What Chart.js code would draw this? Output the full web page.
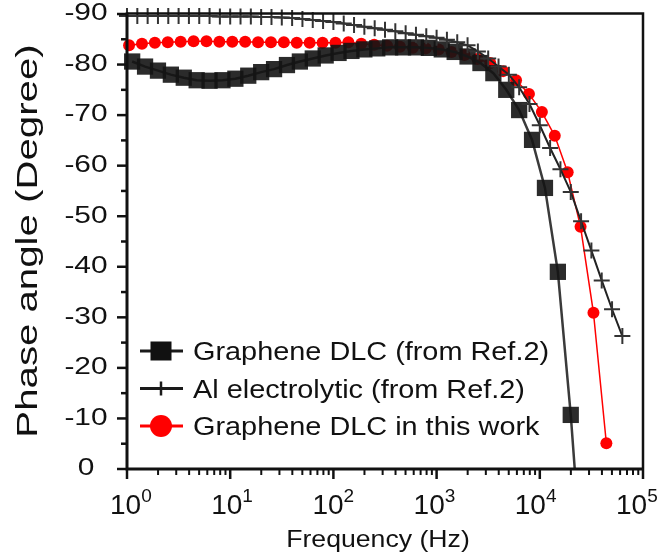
<!DOCTYPE html>
<html>
<head>
<meta charset="utf-8">
<script src="https://cdn.jsdelivr.net/npm/chart.js@4.4.1/dist/chart.umd.min.js"></script>
<style>
  html, body { margin: 0; padding: 0; background: #fff; }
  #wrap { width: 657px; height: 556px; }
</style>
</head>
<body>
<div id="wrap"><canvas id="phaseChart"></canvas></div>
<script>
// log10(frequency / Hz) of every marker
var blackLogF = [0.05, 0.175, 0.3, 0.425, 0.55, 0.675, 0.8, 0.925, 1.05, 1.175, 1.3, 1.425,
    1.55, 1.675, 1.8, 1.925, 2.05, 2.175, 2.3, 2.425, 2.55, 2.675, 2.8, 2.925,
    3.05, 3.175, 3.3, 3.425, 3.55, 3.675, 3.8, 3.925, 4.05, 4.175, 4.3, 4.425];
var blackPhase = [-80.6, -79.6, -78.8, -78.0, -77.4, -76.9, -76.8, -76.9, -77.2, -77.8, -78.5, -79.1,
    -79.9, -80.6, -81.2, -81.8, -82.3, -82.7, -83.0, -83.2, -83.4, -83.4, -83.4, -83.3,
    -83.0, -82.5, -81.6, -80.3, -78.3, -75.0, -71.0, -65.1, -55.6, -39.0, -10.7, 24];

var alLogF = [0, 0.1, 0.2, 0.3, 0.4, 0.5, 0.6, 0.7, 0.8, 0.9, 1.0, 1.1, 1.2, 1.3, 1.4, 1.5,
    1.6, 1.7, 1.8, 1.9, 2.0, 2.1, 2.2, 2.3, 2.4, 2.5, 2.6, 2.7, 2.8, 2.9, 3.0, 3.1,
    3.2, 3.3, 3.4, 3.5, 3.6, 3.7, 3.8, 3.9, 4.0, 4.1, 4.2, 4.3, 4.4, 4.5, 4.6, 4.7, 4.8];
var alPhase = [-89.6, -89.6, -89.6, -89.6, -89.6, -89.6, -89.6, -89.6, -89.6, -89.5, -89.5, -89.5,
    -89.5, -89.4, -89.4, -89.3, -89.2, -89.0, -88.8, -88.6, -88.4, -88.1, -87.8, -87.5,
    -87.2, -86.9, -86.6, -86.2, -85.9, -85.6, -85.3, -84.9, -84.4, -83.8, -82.6, -81.2,
    -79.6, -78.0, -75.5, -72.2, -68.0, -63.5, -59.3, -54.8, -49.0, -43.2, -37.3, -31.6, -26.3];

var redLogF = [0.02, 0.145, 0.27, 0.395, 0.52, 0.645, 0.77, 0.895, 1.02, 1.145, 1.27, 1.395,
    1.52, 1.645, 1.77, 1.895, 2.02, 2.145, 2.27, 2.395, 2.52, 2.645, 2.77, 2.895,
    3.02, 3.145, 3.27, 3.395, 3.52, 3.645, 3.77, 3.895, 4.02, 4.145, 4.27, 4.395, 4.52, 4.645];
var redPhase = [-83.8, -84.1, -84.3, -84.4, -84.5, -84.6, -84.6, -84.5, -84.5, -84.5, -84.4, -84.4,
    -84.4, -84.3, -84.3, -84.3, -84.3, -84.4, -84.1, -83.9, -83.7, -83.5, -83.3, -83.2,
    -83.0, -82.5, -81.9, -81.1, -80.3, -78.7, -76.9, -74.2, -70.6, -65.9, -58.7, -47.9, -30.9, -5.1];

var yTicks = [-90, -80, -70, -60, -50, -40, -30, -20, -10, 0];
var xDecades = [0, 1, 2, 3, 4, 5];
var legendLabels = ['Graphene DLC (from Ref.2)', 'Al electrolytic (from Ref.2)', 'Graphene DLC in this work'];

var FONT = '"Liberation Sans", Arial, sans-serif';

function toPoints(logF, phase) {
    return logF.map(function(e, i) { return { x: Math.pow(10, e), y: phase[i] }; });
}

// text in the picture is wider than Arial, so stretch it sideways
function wideText(ctx, text, x, y, size, sx, align, baseline) {
    ctx.save();
    ctx.translate(x, y);
    ctx.scale(sx, 1);
    ctx.font = size + 'px ' + FONT;
    ctx.textAlign = align;
    ctx.textBaseline = baseline;
    ctx.fillText(text, 0, 0);
    ctx.restore();
}

var axesPlugin = {
    id: 'axesPlugin',
    afterDatasetsDraw: function(chart) {
        var ctx = chart.ctx, a = chart.chartArea;
        var xs = chart.scales.x, ys = chart.scales.y;
        ctx.save();
        ctx.fillStyle = '#111';
        ctx.strokeStyle = '#111';

        // box
        ctx.lineWidth = 2.5;
        ctx.beginPath();
        ctx.moveTo(a.left, a.top - 0.5);
        ctx.lineTo(a.right, a.top - 0.5);
        ctx.lineTo(a.right, a.bottom);
        ctx.stroke();
        ctx.lineWidth = 3;
        ctx.beginPath();
        ctx.moveTo(a.left, a.top - 1.5);
        ctx.lineTo(a.left, a.bottom);
        ctx.lineTo(a.right + 1, a.bottom);
        ctx.stroke();

        // y ticks every 5, labels every 10
        ctx.lineWidth = 2.5;
        for (var v = -90; v <= 0; v += 5) {
            var py = ys.getPixelForValue(v);
            var len = (v % 10 === 0) ? 10 : 6;
            ctx.beginPath();
            ctx.moveTo(a.left - len, py);
            ctx.lineTo(a.left, py);
            ctx.stroke();
        }
        yTicks.forEach(function(t) {
            wideText(ctx, String(t), 86, ys.getPixelForValue(t), 23, 1.3, 'center', 'middle');
        });

        // x ticks: decades + minor 2..9
        xDecades.forEach(function(d) {
            var px = xs.getPixelForValue(Math.pow(10, d));
            ctx.lineWidth = 2.5;
            ctx.beginPath();
            ctx.moveTo(px, a.bottom);
            ctx.lineTo(px, a.bottom + 10);
            ctx.stroke();
            if (d < 5) {
                ctx.lineWidth = 2;
                for (var m = 2; m <= 9; m++) {
                    var mx = xs.getPixelForValue(m * Math.pow(10, d));
                    ctx.beginPath();
                    ctx.moveTo(mx, a.bottom);
                    ctx.lineTo(mx, a.bottom + 6);
                    ctx.stroke();
                }
            }
            // label "10" with superscript exponent
            ctx.font = '28px ' + FONT;
            var w10 = ctx.measureText('10').width;
            var x0 = px - 17 - 2 * d;
            ctx.textAlign = 'left';
            ctx.textBaseline = 'alphabetic';
            ctx.fillText('10', x0, 514);
            ctx.font = '19px ' + FONT;
            ctx.fillText(String(d), x0 + w10, 502);
        });

        // axis titles
        wideText(ctx, 'Frequency (Hz)', (a.left + a.right) / 2 - 7, 547, 24, 1.11, 'center', 'alphabetic');
        ctx.save();
        ctx.translate(37, 241);
        ctx.rotate(-Math.PI / 2);
        ctx.scale(1.34, 1);
        ctx.font = '30px ' + FONT;
        ctx.textAlign = 'center';
        ctx.textBaseline = 'alphabetic';
        ctx.fillText('Phase angle (Degree)', 0, 0);
        ctx.restore();

        // legend
        var rows = [351, 388.5, 426];
        var lineX0 = 140, lineX1 = 183, mX = 161;
        rows.forEach(function(ry, i) {
            ctx.lineWidth = 3;
            ctx.strokeStyle = (i === 2) ? '#ff0000' : '#1a1a1a';
            ctx.beginPath();
            ctx.moveTo(lineX0, ry);
            ctx.lineTo(lineX1, ry);
            ctx.stroke();
            if (i === 0) {
                ctx.fillStyle = '#111';
                ctx.fillRect(mX - 10.5, ry - 9.5, 21, 19);
            } else if (i === 1) {
                ctx.lineWidth = 2.5;
                ctx.beginPath();
                ctx.moveTo(mX, ry - 7);
                ctx.lineTo(mX, ry + 7);
                ctx.stroke();
            } else {
                ctx.fillStyle = '#ff0000';
                ctx.beginPath();
                ctx.arc(mX, ry, 11, 0, Math.PI * 2);
                ctx.fill();
            }
            ctx.fillStyle = '#111';
            wideText(ctx, legendLabels[i], 193, ry + 9.3, 26, 1.11, 'left', 'alphabetic');
        });
        ctx.restore();
    }
};

window.onload = function() {
    var ctx = document.getElementById('phaseChart').getContext('2d');
    window.phaseChart = new Chart(ctx, {
        type: 'line',
        data: {
            datasets: [{
                label: legendLabels[1],
                data: toPoints(alLogF, alPhase),
                borderColor: '#222',
                borderWidth: 2,
                pointStyle: 'cross',
                pointRadius: 8,
                pointBorderColor: '#333',
                pointBorderWidth: 2,
                clip: { left: 10, top: 12, right: 10, bottom: 0 }
            }, {
                label: legendLabels[0],
                data: toPoints(blackLogF, blackPhase),
                borderColor: '#3a3a3a',
                borderWidth: 2.5,
                pointStyle: 'rect',
                pointRadius: 11.5,
                pointBackgroundColor: 'rgba(20, 20, 20, 0.9)',
                pointBorderWidth: 0,
                clip: { left: 10, top: 10, right: 10, bottom: 0 }
            }, {
                label: legendLabels[2],
                data: toPoints(redLogF, redPhase),
                borderColor: '#ff0000',
                borderWidth: 1.5,
                pointStyle: 'circle',
                pointRadius: 6,
                pointBackgroundColor: '#ff0000',
                pointBorderColor: '#ff0000',
                pointBorderWidth: 0,
                clip: { left: 10, top: 10, right: 10, bottom: 0 }
            }]
        },
        options: {
            responsive: true,
            maintainAspectRatio: false,
            animation: false,
            events: [],
            layout: { padding: { top: 14, right: 14, left: 0, bottom: 0 } },
            elements: { line: { tension: 0 } },
            plugins: {
                legend: { display: false },
                tooltip: { enabled: false }
            },
            scales: {
                x: {
                    type: 'logarithmic',
                    min: 1,
                    max: 100000,
                    ticks: { display: false },
                    grid: { display: false },
                    border: { display: false },
                    afterFit: function(s) { s.height = 87; }
                },
                y: {
                    type: 'linear',
                    min: -90,
                    max: 0,
                    reverse: true,
                    ticks: { display: false },
                    grid: { display: false },
                    border: { display: false },
                    afterFit: function(s) { s.width = 127; }
                }
            }
        },
        plugins: [axesPlugin]
    });
};
</script>
</body>
</html>
